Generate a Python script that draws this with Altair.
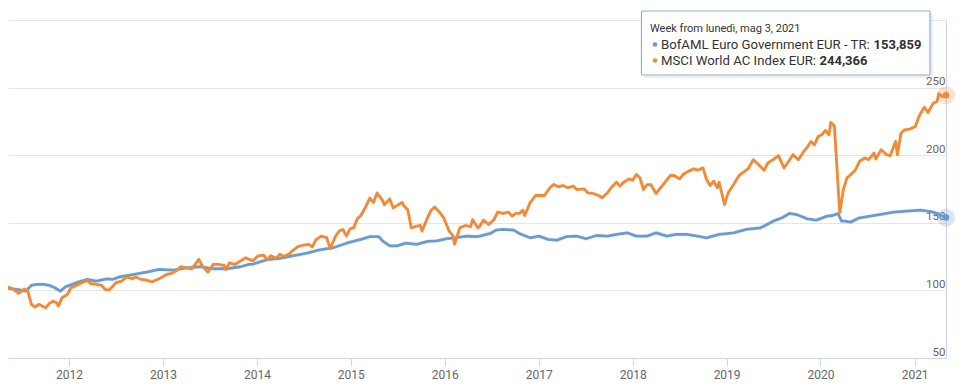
import altair as alt
import pandas as pd

START = "2011-05-09"
HEADER = "Week from lunedì, mag 3, 2021"
NAMES = ["BofAML Euro Government EUR - TR", "MSCI World AC Index EUR"]
COLORS = ["#6b9bcd", "#ee8b38"]
YEARS = list(range(2012, 2022))
Y_TICKS = [50, 100, 150, 200, 250, 300]

blue_weeks = [0, 5, 10, 13, 16, 20, 23, 26, 29, 32, 34, 38, 44, 49, 55, 58, 62, 70, 77, 84, 92, 99, 107, 114, 121, 129, 134,
              136, 144, 151, 158, 166, 173, 181, 188, 196, 201, 206, 208, 212, 216, 221, 227, 233, 238, 244, 249, 255, 260,
              262, 268, 271, 275, 281, 284, 290, 295, 300, 305, 310, 316, 321, 327, 333, 338, 344, 349, 355, 360, 366, 371, 377, 383, 388,
              395, 403, 410, 418, 425, 430, 434, 438, 444, 449, 455, 458, 461, 463, 465, 468, 473, 479, 484, 492, 499, 507, 514, 517, 521]
blue_vals = [101.5, 100.7, 99.5, 103.7, 104.4, 104.4, 103.7, 102.0, 99.5, 102.7, 103.7, 105.7, 108.1, 106.9, 108.6, 108.1, 110.0, 111.8, 113.5, 115.5, 115.0, 116.7, 117.5, 116.0, 116.0, 117.5, 119.2,
             119.5, 122.7, 123.7, 125.6, 127.6, 130.0, 131.7, 134.9, 137.8, 139.8, 139.8, 136.6, 132.9, 132.9, 134.9, 134.1, 136.3, 136.6, 138.3, 139.0, 140.2, 139.8,
             140.1, 142.1, 144.6, 145.1, 144.6, 142.1, 138.9, 140.1, 137.7, 137.2, 139.7, 140.1, 138.2, 140.6, 140.1, 141.4, 142.6, 140.1, 140.1, 142.6, 140.1, 141.4, 141.4, 140.1, 138.9,
             141.4, 142.6, 145.1, 146.3, 151.2, 153.7, 156.9, 156.1, 152.9, 152.0, 154.9, 155.4, 156.9, 151.2, 151.2, 150.5, 153.7, 154.9, 156.1, 157.9, 158.6, 159.3, 157.9, 156.1, 153.859]

orange_weeks = [0, 3, 6, 9, 11, 13, 15, 17, 19, 21, 23, 25, 27, 28, 30, 33, 35, 38, 41, 44, 46, 49, 52, 54, 56, 58, 60, 63, 66, 69, 71, 74, 77, 80, 83, 85, 88, 91, 94, 96, 99, 102, 104, 106, 108, 111, 114, 117, 120, 121, 123, 126, 129, 132, 134,
                136, 139, 142, 144, 146, 149, 151, 153, 156, 158, 161, 164, 167, 169, 171, 174, 177, 179, 182, 184, 186, 188, 190, 192, 194, 196, 198, 201, 203, 205, 208, 209, 212, 214, 216, 219, 220, 222, 224, 227, 229, 230, 233, 235, 237, 240, 242, 245, 247, 248, 251, 254, 257, 258, 261,
                262, 264, 267, 270, 272, 275, 278, 280, 282, 284, 286, 287, 290, 293, 295, 298, 301, 303, 306, 308, 311, 314, 316, 320, 322, 325, 328, 330, 333, 335, 338, 340, 342, 345, 347, 349, 351, 353, 355, 357, 360, 362, 365, 368, 370, 373, 375, 378, 381, 383, 386, 388, 390, 392, 394,
                395, 398, 400, 403, 406, 408, 411, 414, 417, 420, 422, 425, 428, 431, 433, 436, 439, 442, 444, 446, 448, 450, 452, 454, 456, 457, 459, 462, 464, 466, 468, 470, 471, 473, 476, 478, 481, 482, 485, 488, 490, 493, 494, 496, 498, 501, 504, 506, 507, 509, 511, 514, 516, 517, 519, 521]
orange_vals = [102.7, 100.7, 97.8, 101.0, 99.5, 89.7, 87.7, 89.7, 88.4, 87.2, 90.4, 92.0, 91.0, 88.4, 94.6, 97.0, 102.0, 103.7, 105.7, 107.4, 105.0, 104.4, 103.7, 100.7, 100.2, 102.7, 105.7, 106.9, 110.0, 108.6, 109.9, 108.1, 107.6, 106.2, 108.1, 109.4, 111.8, 112.6, 115.0, 117.5, 116.7, 116.0, 119.2, 122.9, 118.0, 113.5, 119.2, 119.2, 118.5, 115.5, 120.4, 119.2, 121.7, 124.1, 122.9,
               122.0, 125.6, 126.1, 122.7, 125.6, 123.7, 126.8, 125.1, 126.8, 129.3, 132.4, 133.4, 134.1, 132.2, 137.3, 140.2, 139.0, 131.0, 140.2, 143.9, 145.1, 140.2, 145.6, 146.3, 152.9, 155.4, 160.2, 168.3, 165.1, 172.0, 166.6, 163.4, 167.6, 161.0, 162.7, 165.1, 162.2, 159.8, 146.3, 147.6, 148.0, 143.9, 153.7, 159.3, 161.7, 157.3, 153.7, 143.9, 140.7, 134.1, 146.3, 148.0, 147.1, 152.4, 146.3,
               147.5, 152.0, 148.8, 152.5, 157.9, 156.9, 157.9, 154.9, 156.9, 156.9, 159.4, 155.4, 164.8, 170.2, 170.2, 170.2, 175.9, 178.3, 176.6, 177.6, 175.9, 177.1, 174.6, 175.1, 172.2, 171.7, 170.2, 168.5, 172.2, 175.9, 180.0, 177.1, 180.0, 182.5, 181.5, 185.7, 183.3, 174.6, 178.3, 178.3, 171.7, 175.1, 180.0, 185.0, 185.0, 182.5, 185.7, 188.2, 189.9, 188.9, 190.6, 182.0, 177.6, 180.8, 175.9,
               180.0, 163.5, 172.1, 178.3, 184.9, 186.9, 189.8, 196.7, 193.0, 188.8, 194.2, 196.7, 199.6, 190.5, 194.2, 200.4, 196.7, 202.8, 206.0, 210.2, 207.7, 213.9, 215.1, 218.3, 215.1, 224.2, 221.7, 157.4, 174.6, 183.2, 185.6, 188.1, 189.8, 195.5, 197.9, 196.7, 201.6, 197.2, 204.1, 200.4, 199.6, 210.2, 200.4, 216.3, 218.8, 219.3, 221.3, 228.6, 231.1, 235.5, 231.6, 238.5, 239.7, 245.3, 243.4, 244.366]

start = pd.Timestamp(START)


def frame(weeks, vals, name):
    return pd.DataFrame({
        "date": [(start + pd.Timedelta(days=7 * w)).strftime("%Y-%m-%d") for w in weeks],
        "value": vals,
        "series": name,
    })


blue_df = frame(blue_weeks, blue_vals, NAMES[0])
orange_df = frame(orange_weeks, orange_vals, NAMES[1])
last_df = pd.concat([blue_df.tail(1), orange_df.tail(1)])


def fmt(v):
    return f"{v:.3f}".replace(".", ",")


FONT = "Roboto"
x_enc = alt.X(
    "date:T",
    scale=alt.Scale(type="utc", nice=False,
                    domain=[alt.DateTime(year=2011, month=5, date=9, utc=True),
                            alt.DateTime(year=2021, month=5, date=3, utc=True)]),
    axis=alt.Axis(values=[alt.DateTime(year=y, month=1, date=1, utc=True) for y in YEARS],
                  format="%Y", title=None, grid=False, domainColor="#ccd6eb", tickColor="#ccd6eb",
                  tickSize=8, labelPadding=3, labelColor="#666666", labelFontSize=12, labelFont=FONT,
                  labelFlush=False),
)
y_enc = alt.Y(
    "value:Q",
    scale=alt.Scale(domain=[50, 300], nice=False, zero=False),
    axis=alt.Axis(orient="right", values=Y_TICKS, title=None, ticks=False, domain=True,
                  domainColor="#ccd6eb", gridColor="#e6e6e6", labelColor="#666666",
                  labelFontSize=11.5, labelFont=FONT, labelAlign="right", labelBaseline="alphabetic",
                  labelPadding=-1, labelOffset=-3, labelFlush=False,
                  labelExpr="datum.value == 300 ? '' : datum.label"),
)
color_scale = alt.Scale(domain=NAMES, range=COLORS)


def line(df, color):
    glow = alt.Chart(df).mark_line(strokeWidth=5, opacity=0.08, color=color, strokeJoin="round").encode(x=x_enc, y=y_enc)
    main = alt.Chart(df).mark_line(strokeWidth=2.8, color=color, strokeJoin="round").encode(x=x_enc, y=y_enc)
    return glow + main


halo = alt.Chart(last_df).mark_circle(size=330, opacity=0.25).encode(
    x=x_enc, y=y_enc, color=alt.Color("series:N", scale=color_scale, legend=None))
dot = alt.Chart(last_df).mark_circle(size=42, opacity=1).encode(
    x=x_enc, y=y_enc, color=alt.Color("series:N", scale=color_scale, legend=None))

one = pd.DataFrame({"k": [0]})
box_shadow = alt.Chart(one).mark_rect(fill="#000000", fillOpacity=0.06, cornerRadius=2).encode(
    x=alt.value(635.5), x2=alt.value(925), y=alt.value(-7), y2=alt.value(58))
box = alt.Chart(one).mark_rect(fill="white", stroke="#8fafd2", strokeWidth=1.2, cornerRadius=1).encode(
    x=alt.value(633.5), x2=alt.value(922), y=alt.value(-9), y2=alt.value(55))
head = alt.Chart(one).mark_text(align="left", baseline="alphabetic", font=FONT, fontSize=11, color="#333333").encode(
    x=alt.value(642), y=alt.value(11.5), text=alt.value(HEADER))


def row(i, y, bold_x):
    d = alt.Chart(one).mark_circle(size=22, opacity=1, color=COLORS[i]).encode(
        x=alt.value(647), y=alt.value(y - 4))
    t = alt.Chart(one).mark_text(align="left", baseline="alphabetic", font=FONT, fontSize=13.2, color="#333333").encode(
        x=alt.value(653), y=alt.value(y), text=alt.value(NAMES[i] + ":"))
    vals = blue_vals if i == 0 else orange_vals
    b = alt.Chart(one).mark_text(align="left", baseline="alphabetic", font=FONT, fontSize=13, fontWeight="bold",
                                 color="#333333").encode(
        x=alt.value(bold_x), y=alt.value(y), text=alt.value(fmt(vals[-1])))
    return d + t + b


chart = alt.layer(
    line(blue_df, COLORS[0]),
    line(orange_df, COLORS[1]),
    halo, dot,
    box_shadow, box, head,
    row(0, 28.5, 865.5),
    row(1, 44.5, 811.5),
).properties(
    width=938, height=338,
    autosize=alt.AutoSizeParams(type="none"),
    padding={"left": 0, "top": 12, "right": 10, "bottom": 26},
    background="white",
).configure_view(stroke=None)

chart.save("out.html", embed_options={"renderer": "svg", "actions": False})
